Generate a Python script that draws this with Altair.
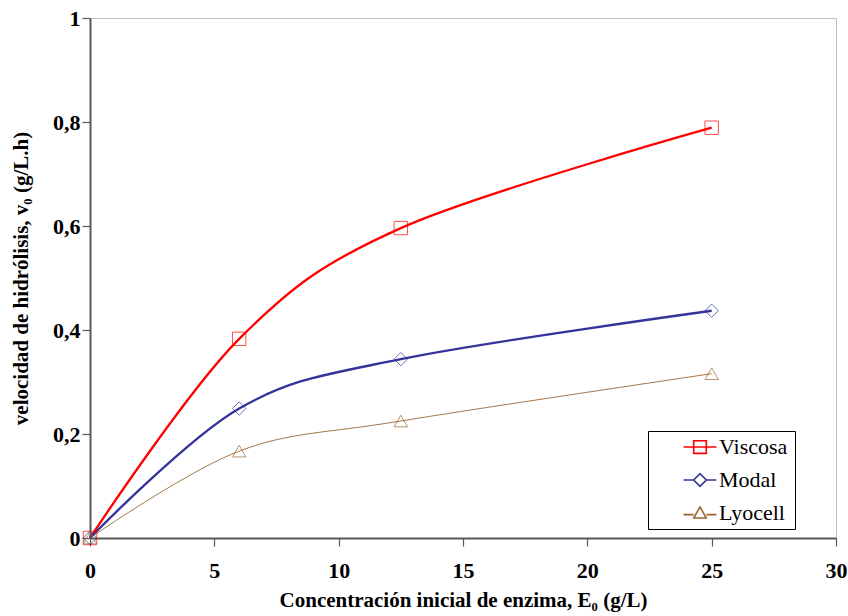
import altair as alt
import pandas as pd

x_vals = [0, 6, 12.5, 25]
series = ["Viscosa", "Modal", "Lyocell"]
viscosa = [0, 0.383, 0.596, 0.789]
modal = [0, 0.249, 0.344, 0.437]
lyocell = [0, 0.167, 0.225, 0.316]
colors = ["#FF0000", "#333399", "#996633"]
widths = [2.3, 2.3, 0.9]
legend_widths = [1.6, 1.6, 1.0]

rows = []
for name, vals in zip(series, [viscosa, modal, lyocell]):
    for xv, yv in zip(x_vals, vals):
        rows.append({"E0": xv, "v0": yv, "Serie": name})
df = pd.DataFrame(rows)

FONT = "Liberation Serif"

x_enc = alt.X("E0:Q", scale=alt.Scale(domain=[0, 30], nice=False),
              axis=alt.Axis(values=[0, 5, 10, 15, 20, 25, 30],
                            title="Concentración inicial de enzima, E\u2080 (g/L)",
                            labelFont=FONT, titleFont=FONT, labelFlush=False,
                            grid=False))
y_enc = alt.Y("v0:Q", scale=alt.Scale(domain=[0, 1], nice=False),
              axis=alt.Axis(values=[0, 0.2, 0.4, 0.6, 0.8, 1],
                            labelExpr="replace(format(datum.value, '.1~f'), '.', ',')",
                            title="velocidad de hidrólisis, v\u2080 (g/L.h)",
                            labelFont=FONT, titleFont=FONT, labelFlush=False,
                            grid=False))

line_layers = []
for name, col, w in zip(series, colors, widths):
    line_layers.append(
        alt.Chart(df).transform_filter(alt.datum.Serie == name)
        .mark_line(interpolate="cardinal", color=col, strokeWidth=w)
        .encode(x=x_enc, y=y_enc)
    )

points = alt.Chart(df).mark_point(filled=False, size=180, strokeWidth=1).encode(
    x="E0:Q", y="v0:Q",
    color=alt.Color("Serie:N", scale=alt.Scale(domain=series, range=colors), legend=None),
    shape=alt.Shape("Serie:N", scale=alt.Scale(domain=series,
                                                range=["square", "diamond", "triangle-up"]),
                    legend=None),
)

legend_paths = [
    "M-2.6,0H2.6M-1,-1H1V1H-1Z",
    "M-2.6,0H-1M1,0H2.6M-1,0L0,-1L1,0L0,1Z",
    "M-2.6,0.25H-1M1,0.25H2.6M0,-0.95L-1,0.8L1,0.8Z",
]

leg = alt.Legend(title="\u00a0", titleOrient="right", titlePadding=3, titleFontSize=22,
                 orient="none", legendX=558, legendY=413,
                 fillColor="white", strokeColor="black", padding=5,
                 labelFont=FONT, labelFontSize=22, labelColor="black",
                 symbolSize=160, symbolOffset=36, labelOffset=8,
                 rowPadding=11, symbolOpacity=1)

legend_layer = alt.Chart(df).mark_point(filled=False, size=160, opacity=0).encode(
    x="E0:Q", y="v0:Q",
    color=alt.Color("Serie:N", scale=alt.Scale(domain=series, range=colors), legend=leg),
    shape=alt.Shape("Serie:N", scale=alt.Scale(domain=series, range=legend_paths), legend=leg),
    strokeWidth=alt.StrokeWidth("Serie:N", scale=alt.Scale(domain=series, range=legend_widths), legend=leg),
)

chart = alt.layer(*line_layers, points, legend_layer).resolve_scale(
    color="independent", shape="independent", strokeWidth="independent"
).properties(
    width=746, height=520,
    autosize=alt.AutoSizeParams(type="none"),
    padding={"left": 90, "top": 18, "right": 12, "bottom": 78},
).configure(
    font=FONT
).configure_view(
    stroke="#BFBFBF", strokeWidth=1
).configure_axis(
    domainColor="#595959", domainWidth=2,
    tickColor="#595959", tickWidth=1.2, tickSize=8,
    labelFont=FONT, labelFontSize=22, labelFontWeight="bold", labelColor="black",
    titleFont=FONT, titleFontSize=21, titleFontWeight="bold", titleColor="black",
).configure_axisX(
    labelPadding=14, titlePadding=8,
).configure_axisY(
    labelPadding=2, titlePadding=21,
).configure_legend(
    labelFont=FONT
)

chart.save("out.html", embed_options={"renderer": "svg", "actions": False})
